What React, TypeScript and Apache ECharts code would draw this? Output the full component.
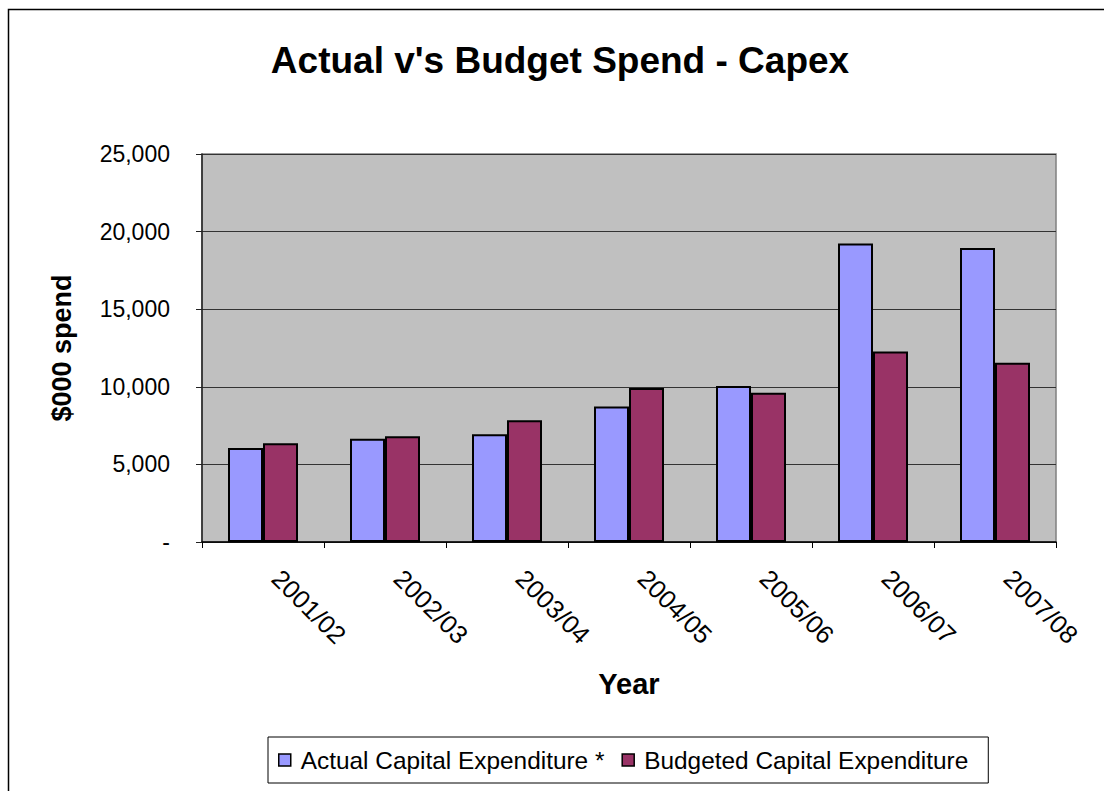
import React, { useEffect, useRef } from "react";
import * as echarts from "echarts";

const categories = ["2001/02", "2002/03", "2003/04", "2004/05", "2005/06", "2006/07", "2007/08"];
const actualSpend = [6060, 6650, 6950, 8730, 10050, 19230, 18950];
const budgetSpend = [6370, 6820, 7850, 9920, 9610, 12280, 11550];
const seriesNames = ["Actual Capital Expenditure *", "Budgeted Capital Expenditure"];

const FONT = "'Liberation Sans', Arial, Helvetica, sans-serif";

export default function App() {
  const ref = useRef<HTMLDivElement>(null);
  useEffect(() => {
    if (!ref.current) return;
    const chart = echarts.init(ref.current, null, { renderer: "svg" });
    chart.setOption({
      animation: false,
      backgroundColor: "#ffffff",
      textStyle: { fontFamily: FONT },
      graphic: [
        {
          type: "rect",
          shape: { x: 8.5, y: 9.5, width: 1300, height: 1000 },
          style: { fill: "none", stroke: "#000", lineWidth: 1.5 },
          silent: true,
          z: 100,
        },
      ],
      title: {
        text: "Actual v's Budget Spend - Capex",
        left: 555,
        textAlign: "center",
        top: 37,
        textStyle: { fontFamily: FONT, fontSize: 37, fontWeight: "bold", color: "#000" },
      },
      legend: {
        left: 268,
        top: 737,
        padding: [11, 20, 11, 10],
        itemGap: 17,
        itemWidth: 12,
        itemHeight: 12,
        icon: "rect",
        backgroundColor: "#fff",
        borderColor: "#000",
        borderWidth: 1,
        borderRadius: 0,
        itemStyle: { borderColor: "#000", borderWidth: 1.5 },
        textStyle: { fontFamily: FONT, fontSize: 24.4, color: "#000", padding: [0, 0, 0, 5] },
        data: seriesNames,
      },
      grid: {
        left: 202,
        right: 48,
        top: 154,
        bottom: 249,
        show: true,
        backgroundColor: "#c0c0c0",
        borderColor: "#808080",
        borderWidth: 1.5,
      },
      xAxis: {
        type: "category",
        data: categories,
        name: "Year",
        nameLocation: "middle",
        nameGap: 127,
        nameTextStyle: { fontFamily: FONT, fontSize: 29, fontWeight: "bold", color: "#000" },
        axisLine: { lineStyle: { color: "#000", width: 1.5 } },
        axisTick: { show: true, length: 6, lineStyle: { color: "#000" } },
        axisLabel: {
          rotate: -45,
          margin: 37,
          verticalAlign: "bottom",
          padding: [0, 0, 0, 6],
          fontFamily: FONT,
          fontSize: 25.5,
          color: "#000",
          interval: 0,
        },
      },
      yAxis: {
        type: "value",
        min: 0,
        max: 25000,
        interval: 5000,
        name: "$000 spend",
        nameLocation: "middle",
        nameRotate: 90,
        nameGap: 127,
        nameTextStyle: { fontFamily: FONT, fontSize: 27, fontWeight: "bold", color: "#000" },
        axisLine: { show: true, lineStyle: { color: "#222", width: 1.5 } },
        axisTick: { show: true, length: 6, lineStyle: { color: "#222" } },
        splitLine: { show: true, lineStyle: { color: "#333", width: 1 } },
        axisLabel: {
          margin: 32,
          fontFamily: FONT,
          fontSize: 23,
          color: "#000",
          formatter: (v: number) => (v === 0 ? "-" : v.toLocaleString("en-US")),
        },
      },
      series: [
        {
          name: seriesNames[0],
          type: "bar",
          data: actualSpend,
          barWidth: 35,
          barGap: "0%",
          itemStyle: { color: "#9999ff", borderColor: "#000", borderWidth: 2 },
        },
        {
          name: seriesNames[1],
          type: "bar",
          data: budgetSpend,
          barWidth: 35,
          barGap: "0%",
          itemStyle: { color: "#993366", borderColor: "#000", borderWidth: 2 },
        },
      ],
    });
    return () => chart.dispose();
  }, []);
  return (
    <div
      ref={ref}
      style={{ position: "absolute", left: 0, top: 0, width: 1104, height: 791 }}
    />
  );
}
